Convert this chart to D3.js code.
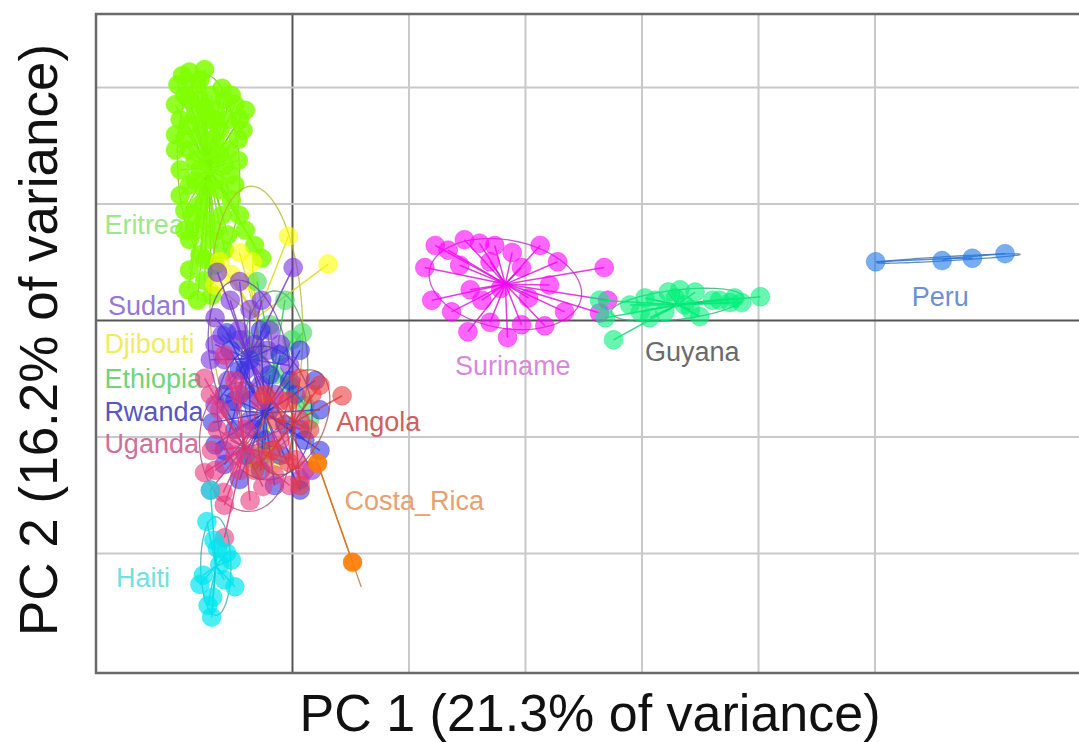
<!DOCTYPE html>
<html>
<head>
<meta charset="utf-8">
<script src="https://cdn.jsdelivr.net/npm/d3@7"></script>
<style>
  html, body { margin: 0; padding: 0; background: #fff; }
  svg { display: block; font-family: "Liberation Sans", Arial, Helvetica, sans-serif; }
</style>
</head>
<body>
<svg id="chart" width="1079" height="742"></svg>
<script>
// ---------- DATA (PC scores, one grid step = 1 unit) ----------
const groups = ["Eritrea","Djibouti","Ethiopia","Sudan","Rwanda","Uganda","Angola","Costa_Rica","Haiti","Suriname","Guyana","Peru"];

const eritrea = [[-0.94,2.10],[-0.88,2.13],[-0.82,2.02],[-0.92,1.93],[-0.79,1.89],[-0.69,1.93],[-0.58,1.89],[-0.49,1.85],[-0.45,1.72],[-0.46,1.55],[-0.55,1.46],[-0.66,1.72],[-0.83,1.76],[-0.96,1.72],[-0.92,1.55],[-0.79,1.59],[-0.66,1.55],[-0.58,1.33],[-0.70,1.33],[-0.83,1.37],[-0.96,1.29],[-0.88,1.16],[-0.75,1.12],[-0.62,1.12],[-0.52,1.03],[-0.45,0.90],[-0.60,0.90],[-0.79,0.99],[-0.92,0.94],[-0.83,0.77],[-0.70,0.69],[-0.58,0.60],[-0.40,0.77],[-0.32,0.64],[-0.26,0.53],[-0.79,0.56],[-0.88,0.43],[-0.75,0.34],[-0.69,0.21],[-0.81,0.17],[-0.89,0.26],[-0.83,1.20],[-0.74,1.72],[-0.62,1.63],[-0.53,1.25],[-0.88,1.89],[-0.75,2.15],[-0.66,1.80],
  [-0.98,2.02],[-0.79,2.06],[-0.60,1.99],[-0.52,1.93],[-0.40,1.80],[-1.00,1.85],[-0.89,1.67],[-0.75,1.82],[-0.55,1.72],[-0.42,1.63],[-1.00,1.59],[-0.72,1.46],[-0.62,1.42],[-0.46,1.37],[-1.00,1.46],[-0.88,1.46],[-0.79,1.29],[-0.66,1.20],[-0.49,1.16],[-0.96,1.07],[-0.75,0.86],[-0.66,0.77],[-0.88,0.69],[-0.55,0.73],[-0.75,0.52],[-0.66,0.47],[-0.85,0.90],[-0.92,0.77]];
const djibouti = [[-0.03,0.72],[0.31,0.48],[-0.45,0.58],[-0.34,0.50],[-0.62,0.50],[-0.52,0.39],[-0.36,0.33],[-0.66,0.30],[-0.23,-1.13],[-0.29,-1.22],[-0.17,-1.24]];
const ethiopia = [[-0.30,0.33],[0.09,-0.11],[0.00,-0.17],[-0.29,-0.27],[-0.40,-0.17],[0.15,-0.86],[0.11,-0.73],[-0.25,-1.16],[-0.36,-1.18],[-0.15,-0.47],[-0.02,-0.56],[-0.45,-0.64],[-0.19,-0.04],[-0.06,0.17]];
const sudan = [[0.01,0.45],[-0.64,0.41],[-0.45,0.33],[-0.53,0.17],[-0.66,0.02],[-0.60,-0.13],[-0.46,-0.09],[-0.36,0.09],[-0.26,0.17],[-0.32,-0.21],[-0.21,-0.26],[-0.10,-0.21],[-0.40,-0.43],[-0.55,-0.52],[-0.27,-0.56],[-0.70,-0.34],[-0.49,-0.69],[-0.36,-0.86],[-0.66,-0.73],[-0.15,-0.64],[-0.02,-0.39],[0.07,-1.37],[0.17,-1.29],[-0.58,-1.12],
  [-0.45,-0.17],[-0.58,-0.34],[-0.27,-0.39],[-0.40,-0.60],[-0.19,-0.09],[-0.66,-0.21]];
const rwanda = [[-0.68,-0.88],[-0.56,-0.11],[-0.27,-0.09],[-0.10,-0.30],[0.07,-0.26],[0.03,-0.64],[0.20,-0.52],[0.24,-0.77],[0.11,-1.03],[-0.10,-1.16],[-0.27,-1.29],[-0.45,-1.37],[-0.58,-1.24],[-0.66,-1.07],[-0.49,-0.94],[-0.36,-0.69],[-0.19,-0.77],[-0.06,-0.90],[-0.45,-0.43],[-0.58,-0.64],[0.07,-1.46],[-0.15,-1.42],[0.24,-1.12],[-0.23,-1.03],
  [-0.53,-0.26],[-0.36,-0.34],[-0.19,-0.47],[-0.02,-0.52],[-0.40,-1.16],[-0.53,-0.77],[0.07,-0.94],[-0.32,-0.94]];
const uganda = [[-0.75,-0.50],[-0.75,-1.31],[-0.66,-1.29],[-0.59,-1.48],[-0.58,-1.87],[-0.25,-1.43],[-0.45,-1.29],[-0.32,-1.16],[-0.53,-1.03],[-0.62,-0.77],[-0.49,-0.52],[-0.58,-0.30],[-0.10,-0.69],[0.07,-0.86],[0.03,-1.20],[-0.15,-1.33],[-0.40,-0.94],[-0.27,-0.69],[-0.02,-1.42],[0.11,-1.29],[-0.69,-1.12],[-0.36,-1.55],
  [-0.70,-0.64],[-0.64,-0.94],[-0.49,-1.16],[-0.23,-1.20],[-0.10,-1.03],[-0.45,-0.64],[-0.58,-1.59],[-0.70,-1.46]];
const angola = [[0.43,-0.65],[0.24,-0.56],[0.17,-0.64],[0.07,-0.50],[-0.03,-0.70],[-0.13,-0.86],[-0.17,-1.12],[-0.03,-1.22],[0.07,-1.42],[-0.23,-0.64],[0.15,-0.94],[-0.32,-1.29]];
const costaRica = [[0.22,-1.23],[0.52,-2.08]];
const haiti = [[-0.70,-1.46],[-0.73,-1.73],[-0.56,-2.00],[-0.64,-1.96],[-0.52,-2.06],[-0.76,-2.19],[-0.62,-2.10],[-0.49,-2.29],[-0.68,-2.38],[-0.69,-2.55],[-0.72,-2.45],[-0.58,-2.23],[-0.79,-2.27],[-0.67,-1.89]];
const suriname = [[1.23,0.64],[1.34,0.60],[1.48,0.69],[1.61,0.66],[1.74,0.64],[1.89,0.58],[2.13,0.64],[2.28,0.50],[2.68,0.45],[1.14,0.45],[1.44,0.47],[1.70,0.50],[1.97,0.45],[2.21,0.30],[1.53,0.26],[1.79,0.27],[2.03,0.19],[1.20,0.17],[1.37,0.07],[1.51,-0.10],[1.70,-0.02],[1.85,-0.15],[1.97,-0.04],[2.17,-0.05],[2.34,0.07],[2.64,0.06],[2.71,0.17],[1.63,0.17]];
const guyana = [[2.64,0.17],[2.69,0.02],[2.76,-0.17],[2.90,0.13],[3.03,0.19],[3.12,0.17],[3.23,0.24],[3.33,0.26],[3.46,0.24],[3.61,0.17],[3.76,0.15],[3.86,0.15],[4.02,0.20],[3.07,0.02],[3.20,0.07],[3.37,0.13],[3.50,0.03],[3.67,0.17],[2.99,0.07],[3.29,0.19],[3.80,0.19],[3.42,0.09]];
const peru = [[5.01,0.50],[5.58,0.51],[5.84,0.53],[6.12,0.57]];

const groupPoints = [eritrea, djibouti, ethiopia, sudan, rwanda, uganda, angola, costaRica, haiti, suriname, guyana, peru];

// label anchor for each group (PC units)
const labelPos = [[-1.61,0.82],[-1.61,-0.20],[-1.61,-0.50],[-1.58,0.13],[-1.61,-0.78],[-1.61,-1.06],[0.38,-0.87],[0.45,-1.55],[-1.51,-2.21],[1.40,-0.39],[3.03,-0.27],[5.32,0.20]];
const labelText = ["Eritrea","Djibouti","Ethiopia","Sudan","Rwanda","Uganda","Angola","Costa_Rica","Haiti","Suriname","Guyana","Peru"];

const xTicks = [0,1,2,3,4,5];
const yTicks = [-2,-1,0,1,2];
const xTitle = "PC 1 (21.3% of variance)";
const yTitle = "PC 2 (16.2% of variance)";

// ---------- STYLE ----------
const pointColor = ["#7FFF00","#FFFF00","#38DC58","#7A30E0","#3434E6","#E8387E","#EE3A3A","#FF7A00","#00E6F0","#FF00FF","#00F07A","#1E78E8"];
const labelColor = ["#9EE68A","#EDED60","#70D478","#9478D4","#5656BC","#D0709A","#D06060","#E8A070","#72E0E0","#D888DC","#6A6A6A","#6E90D2"];
const pointOpacity = [0.85,0.6,0.6,0.6,0.6,0.6,0.6,0.9,0.7,0.6,0.6,0.6];

// ---------- DRAW ----------
const svg = d3.select("#chart");
const L = 96, R = 1079, T = 14, B = 673;
const x = d3.scaleLinear().domain([-1.682, 6.755]).range([L, R]);
const y = d3.scaleLinear().domain([-3.030, 2.627]).range([B, T]);

svg.append("defs").append("clipPath").attr("id","clip")
  .append("rect").attr("x",L).attr("y",T).attr("width",R-L).attr("height",B-T);

// grid via axes
const gx = svg.append("g").attr("transform",`translate(0,${B})`)
  .call(d3.axisBottom(x).tickValues(xTicks).tickSize(-(B-T)).tickFormat(""));
const gy = svg.append("g").attr("transform",`translate(${L},0)`)
  .call(d3.axisLeft(y).tickValues(yTicks).tickSize(-(R-L)).tickFormat(""));
[gx, gy].forEach(g => {
  g.select(".domain").remove();
  g.selectAll(".tick line").attr("stroke", d => d === 0 ? "#555" : "#c9c9c9").attr("stroke-width", 2);
});

// frame
svg.append("path")
  .attr("d", `M${R},${T}H${L}V${B}H${R}`)
  .attr("fill","none").attr("stroke","#6a6a6a").attr("stroke-width",2.5);

// labels (under the points)
svg.append("g").selectAll("text").data(labelText).join("text")
  .attr("x",(d,i)=>x(labelPos[i][0]))
  .attr("y",(d,i)=>y(labelPos[i][1]))
  .attr("dy","0.36em")
  .attr("font-size",27)
  .attr("fill",(d,i)=>labelColor[i])
  .text(d=>d);

const plot = svg.append("g").attr("clip-path","url(#clip)");

function stats(pts){
  const n = pts.length;
  const mx = d3.mean(pts,p=>p[0]), my = d3.mean(pts,p=>p[1]);
  let vxx=0,vyy=0,vxy=0;
  pts.forEach(p=>{ vxx+=(p[0]-mx)**2/n; vyy+=(p[1]-my)**2/n; vxy+=(p[0]-mx)*(p[1]-my)/n; });
  const tr=(vxx+vyy)/2, dd=Math.sqrt(((vxx-vyy)/2)**2+vxy**2);
  const l1=tr+dd, l2=Math.max(tr-dd,0);
  const ang=0.5*Math.atan2(2*vxy, vxx-vyy);
  return {mx,my,a:1.5*Math.sqrt(l1),b:1.5*Math.sqrt(l2),ang};
}

groupPoints.forEach((pts,gi)=>{
  const c = pointColor[gi];
  const s = stats(pts);
  const g = plot.append("g");
  const ell = d3.range(0,101).map(k=>{
    const t = k/100*2*Math.PI;
    const ex = s.a*Math.cos(t), ey = s.b*Math.sin(t);
    return [s.mx + ex*Math.cos(s.ang) - ey*Math.sin(s.ang), s.my + ex*Math.sin(s.ang) + ey*Math.cos(s.ang)];
  });
  g.append("path")
    .attr("d", d3.line().x(p=>x(p[0])).y(p=>y(p[1]))(ell))
    .attr("fill","none")
    .attr("stroke", d3.interpolateRgb(c,"#555")(0.45))
    .attr("stroke-opacity",0.75)
    .attr("stroke-width",1.3);
  g.selectAll("line").data(pts).join("line")
    .attr("x1",p=>x(p[0])).attr("y1",p=>y(p[1]))
    .attr("x2",x(s.mx)).attr("y2",y(s.my))
    .attr("stroke", d3.interpolateRgb(c,"#444")(0.2))
    .attr("stroke-opacity",0.8)
    .attr("stroke-width",1.5);
  g.selectAll("circle").data(pts).join("circle")
    .attr("cx",p=>x(p[0])).attr("cy",p=>y(p[1]))
    .attr("r",9.5)
    .attr("fill",c)
    .attr("fill-opacity", pointOpacity[gi])
    .attr("stroke",c).attr("stroke-opacity",0.35).attr("stroke-width",1);
});

// axis titles
svg.append("text")
  .attr("x", 590).attr("y", 731)
  .attr("text-anchor","middle")
  .attr("font-size",52)
  .attr("fill","#111")
  .text(xTitle);
svg.append("text")
  .attr("transform","translate(57,340) rotate(-90)")
  .attr("text-anchor","middle")
  .attr("font-size",53)
  .attr("fill","#111")
  .text(yTitle);
</script>
</body>
</html>
